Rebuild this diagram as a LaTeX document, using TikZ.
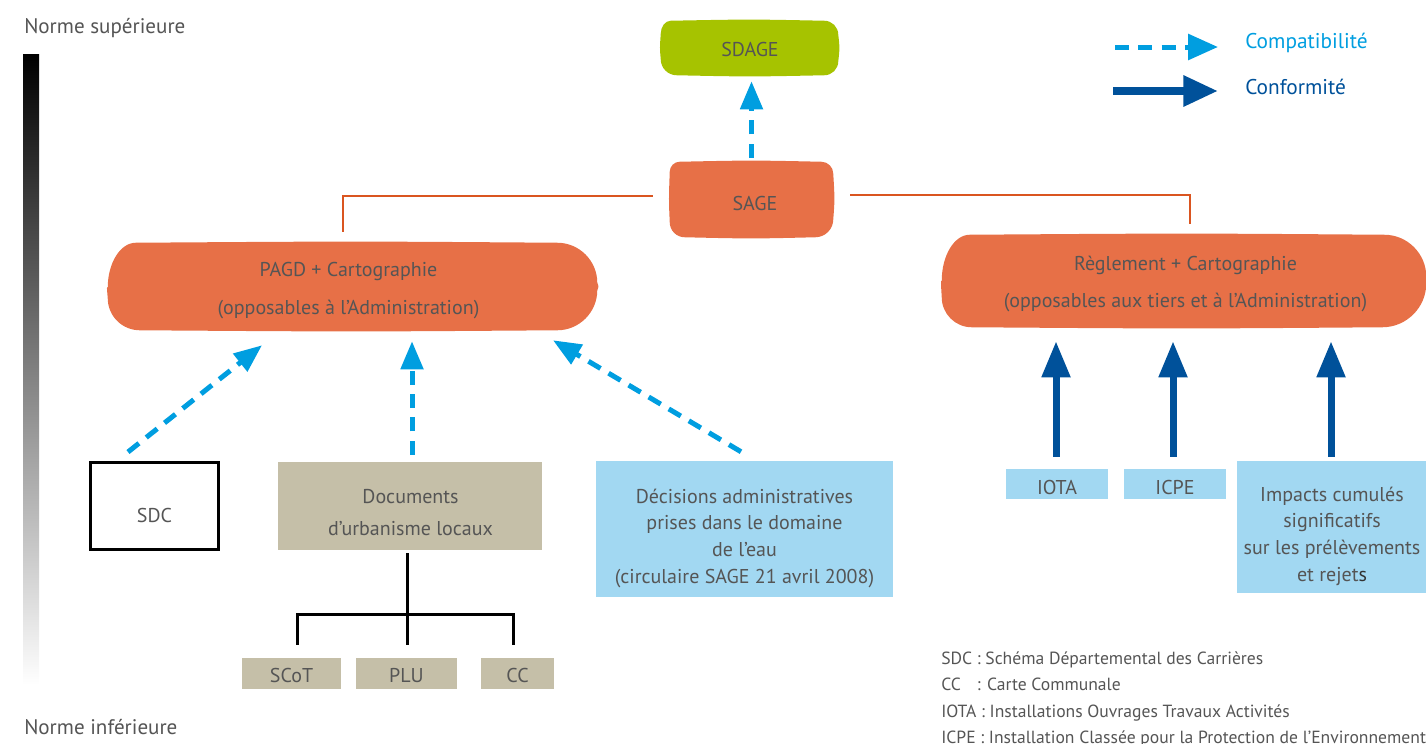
\documentclass[tikz,border=0pt]{standalone}
\usepackage{fontspec}
\setmainfont{PT Sans}
\usetikzlibrary{arrows.meta,calc,backgrounds}
\definecolor{sdagegreen}{HTML}{A6C300}
\definecolor{sageorange}{HTML}{E77047}
\definecolor{linkorange}{HTML}{DA5520}
\definecolor{beige}{HTML}{C5BFA8}
\definecolor{lightblue}{HTML}{A2D8F2}
\definecolor{compblue}{HTML}{009EE0}
\definecolor{confblue}{HTML}{00519A}
\definecolor{txt}{HTML}{555555}
% #1 node, #2 colour, #3 top-left rx, #4 top-left ry, #5 top-right r, #6 bottom-right r, #7 bottom-left r
\newcommand\blobfill[7]{%
  \fill[#2] ($(#1.north west)+(#3,0)$)
   .. controls ($(#1.north)+(0,-1.5)$) .. ($(#1.north east)+(-#5,0)$)
   .. controls ($(#1.north east)+(-0.45*#5,0)$) and ($(#1.north east)+(0,0.45*#5)$) .. ($(#1.north east)+(0,#5)$)
   .. controls ($(#1.east)+(1.5,0)$) .. ($(#1.south east)+(0,-#6)$)
   .. controls ($(#1.south east)+(0,-0.45*#6)$) and ($(#1.south east)+(-0.45*#6,0)$) .. ($(#1.south east)+(-#6,0)$)
   .. controls ($(#1.south)+(0,1.5)$) .. ($(#1.south west)+(#7,0)$)
   .. controls ($(#1.south west)+(0.45*#7,0)$) and ($(#1.south west)+(0,-0.45*#7)$) .. ($(#1.south west)+(0,-#7)$)
   .. controls ($(#1.west)+(-1,0)$) .. ($(#1.north west)+(0,#4)$)
   .. controls ($(#1.north west)+(0,0.45*#4)$) and ($(#1.north west)+(0.45*#3,0)$) .. ($(#1.north west)+(#3,0)$)
   -- cycle;}
\begin{document}
\begin{tikzpicture}[x=0.75pt,y=-0.75pt,
  every node/.style={inner sep=0pt,text=txt,font=\fontsize{15}{20}\selectfont},
  shapebox/.style={minimum width=#1},
  beigebox/.style={fill=beige},
  bluebox/.style={fill=lightblue},
  lbl/.style={align=center},
  compat/.style={draw=compblue,line width=3.75pt,dash pattern=on 10.5pt off 7pt,
     -{Triangle[length=21pt,width=16.5pt]}},
  conf/.style={draw=confblue,line width=5.25pt,-{Triangle[length=27pt,width=20.5pt]}},
  orgline/.style={draw=linkorange,line width=1.6pt},
  tree/.style={draw=black,line width=2.25pt},
  normtext/.style={anchor=west,font=\fontsize{15.8}{18}\selectfont},
  legtext/.style={anchor=west,font=\fontsize{16}{18}\selectfont},
  notetext/.style={anchor=base west,font=\fontsize{13.2}{16}\selectfont}
]
\useasboundingbox (0,0) rectangle (1426,743);

% gradient bar
\shade[top color=black,bottom color=white] (23,54) rectangle (39,685);
\node[normtext] (nsup) at (24,28) {Norme supérieure};
\node[normtext] (ninf) at (24,727) {Norme inférieure};

% top shapes (filled on the background layer)
\node[minimum width=132.75pt,minimum height=40.5pt] (sdage) at (749.5,48) {};
\node[minimum width=122.25pt,minimum height=56.25pt] (sage) at (751.5,199.5) {};
\node[minimum width=366.75pt,minimum height=65.25pt] (pagd) at (352.5,286.5) {};
\node[minimum width=363pt,minimum height=69pt] (regl) at (1184,281) {};
\begin{scope}[on background layer]
  \blobfill{sdage}{sdagegreen}{10}{13}{14}{14}{16}
  \blobfill{sage}{sageorange}{10}{10}{12}{18}{15}
  \blobfill{pagd}{sageorange}{28}{45}{40}{40}{32}
  \blobfill{regl}{sageorange}{28}{46}{42}{44}{30}
\end{scope}
\node[lbl] (sdageT) at ($(sdage)+(0.5,1)$) {SDAGE};
\node[lbl] (sageT) at ($(sage)+(3.5,4)$) {SAGE};
\node[lbl,font=\fontsize{15}{28.5}\selectfont] (pagdT) at ($(pagd)+(-4,4)$)
  {PAGD + Cartographie\\(opposables à l’Administration)};
\node[lbl,font=\fontsize{15}{27.75}\selectfont] (reglT) at ($(regl)+(1.5,3)$)
  {Règlement + Cartographie\\(opposables aux tiers et à l’Administration)};

% lower left boxes
\node[draw=black,line width=2.25pt,fill=white,minimum width=96pt,minimum height=65.25pt] (sdc) at (154.5,506) {};
\node[lbl] (sdcT) at ($(sdc)+(0,9)$) {SDC};
\node[beigebox,minimum width=198pt,minimum height=66pt] (docs) at (410,506) {};
\node[lbl,font=\fontsize{15}{24}\selectfont] (docsT) at ($(docs)+(0.5,7)$)
  {Documents\\d’urbanisme locaux};
\node[bluebox,minimum width=222.75pt,minimum height=102pt] (dec) at (744.5,529) {};
\node[lbl] (decT) at ($(dec)+(0,9)$)
  {Décisions administratives\\prises dans le domaine\\de l’eau\\(circulaire SAGE 21 avril 2008)};
\node[beigebox,minimum width=74.25pt,minimum height=23.25pt] (scot) at (291.5,673.5) {};
\node[beigebox,minimum width=75.75pt,minimum height=23.25pt] (plu) at (406.5,673.5) {};
\node[beigebox,minimum width=54.75pt,minimum height=23.25pt] (cc) at (517.5,673.5) {};
\node[lbl] (scotT) at ($(scot)+(0,2)$) {SCoT};
\node[lbl] (pluT) at ($(plu)+(0,2)$) {PLU};
\node[lbl] (ccT) at ($(cc)+(0,2)$) {CC};

% lower right boxes
\node[bluebox,minimum width=76.5pt,minimum height=22.5pt] (iota) at (1057,484) {};
\node[bluebox,minimum width=76.5pt,minimum height=22.5pt] (icpe) at (1175,484) {};
\node[bluebox,minimum width=141.75pt,minimum height=99pt] (imp) at (1331.5,527) {};
\node[lbl] (iotaT) at ($(iota)+(0,3)$) {IOTA};
\node[lbl] (icpeT) at ($(icpe)+(0,3)$) {ICPE};
\node[lbl] (impT) at ($(imp)+(0.5,9)$)
  {Impacts cumulés\\significatifs\\sur les prélèvements\\et rejet{\color{black!80}s}};

% orange links
\draw[orgline] ($(sage.west)+(-17,-3.5)$) -| ($(pagd.north)+(-9.5,-11)$);
\draw[orgline] ($(sage.east)+(17,-4.5)$) -| ($(regl.north)+(6,-11)$);

% compatibility arrows
\draw[compat] ($(sage.north)+(0,-4)$) -- ($(sdage.south -| sage.north)+(0,6)$);
\draw[compat] ($(sdc.north)+(-26.5,-9)$) -- ($(pagd.south)+(-90.5,15)$);
\draw[compat] ($(docs.north)+(2,-7)$) -- ($(pagd.south)+(59.5,11)$);
\draw[compat] ($(dec.north)+(-3.5,-9)$) -- ($(pagd.south)+(200.5,10)$);

% conformity arrows
\draw[conf] ($(iota.north)+(-1,-12)$) -- ($(iota.north |- regl.south)+(-1,14)$);
\draw[conf] ($(icpe.north)+(-2,-12)$) -- ($(icpe.north |- regl.south)+(-2,14)$);
\draw[conf] ($(imp.north)+(-0.5,-4)$) -- ($(imp.north |- regl.south)+(-0.5,14)$);

% tree
\draw[tree] ($(docs.south)+(-3,3)$) -- ($(plu.north)+(0.5,-13)$);
\draw[tree] ($(scot.north)+(5.5,-13)$) -- ($(scot.north)+(5.5,-43)$) -| ($(cc.north)+(-4.5,-13)$);

% legend
\coordinate (l1a) at (1115,47);
\coordinate (l1b) at (1218,47);
\coordinate (l2a) at (1113,91);
\coordinate (l2b) at (1218,91);
\draw[compat,-{Triangle[length=22.5pt,width=19pt]}] (l1a) -- (l1b);
\draw[conf,line width=6pt,-{Triangle[length=26pt,width=22pt]}] (l2a) -- (l2b);
\node[legtext,text=compblue] (lcomp) at (1245,43) {Compatibilité};
\node[legtext,text=confblue] (lconf) at (1245,87) {Conformité};

% notes
\node[notetext] (n1) at (941,664) {SDC : Schéma Départemental des Carrières};
\node[notetext] (n2) at (941,690.5) {\rlap{CC}\hphantom{SDC} : Carte Communale};
\node[notetext] (n3) at (941,717) {IOTA : Installations Ouvrages Travaux Activités};
\node[notetext] (n4) at (941,743.5) {ICPE : Installation Classée pour la Protection de l’Environnement};
\end{tikzpicture}
\end{document}
